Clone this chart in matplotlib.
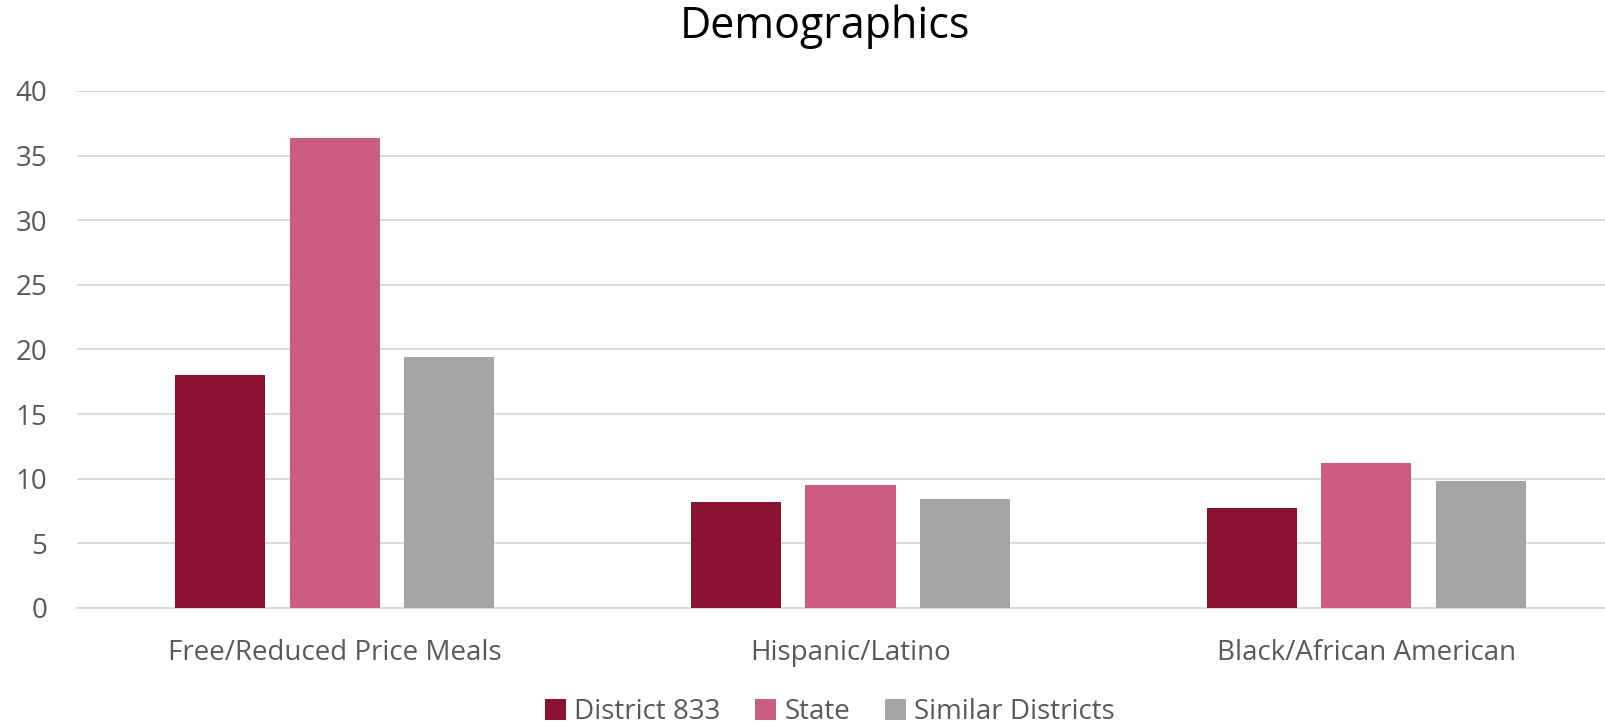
import numpy as np
import matplotlib
matplotlib.use("Agg")
import matplotlib.pyplot as plt

plt.rcParams["font.family"] = ["Open Sans", "DejaVu Sans"]

categories = ["Free/Reduced Price Meals", "Hispanic/Latino", "Black/African American"]
series_names = ["District 833", "State", "Similar Districts"]
district = [18.0, 8.2, 7.7]
state = [36.4, 9.5, 11.2]
similar = [19.4, 8.4, 9.8]
colors = ["#8B1230", "#CD5C82", "#A5A5A5"]

fig = plt.figure(figsize=(16.05, 7.25), dpi=100)
ax = fig.add_axes([0.0478, 0.1614, 0.9642, 0.7131])

x = np.arange(len(categories))
width = 0.1746
step = 0.222
for i, (vals, name, c) in enumerate(zip([district, state, similar], series_names, colors)):
    ax.bar(x + (i - 1) * step, vals, width, color=c, label=name, zorder=3)

ax.set_xlim(-0.5, 2.5)
ax.set_ylim(0, 40)
ax.set_yticks(range(0, 41, 5))
ax.yaxis.grid(True, color="#D9D9D9", linewidth=1.3, zorder=0)
ax.set_axisbelow(True)
for s in ["top", "right", "left"]:
    ax.spines[s].set_visible(False)
ax.spines["bottom"].set_color("#D9D9D9")
ax.spines["bottom"].set_linewidth(1.3)
ax.tick_params(length=0, labelsize=20, labelcolor="#595959")
ax.tick_params(axis="x", pad=22)
ax.tick_params(axis="y", pad=21)
ax.set_xticks(x)
ax.set_xticklabels(categories)

fig.suptitle("Demographics", fontsize=31, x=0.514, y=0.994, color="black")
fig.legend(loc="lower center", bbox_to_anchor=(0.517, -0.036), ncol=3, frameon=False,
           fontsize=20, handlelength=0.75, handleheight=0.75, handletextpad=0.3,
           columnspacing=1.25, labelcolor="#595959")

fig.savefig("out.png", dpi=100)
